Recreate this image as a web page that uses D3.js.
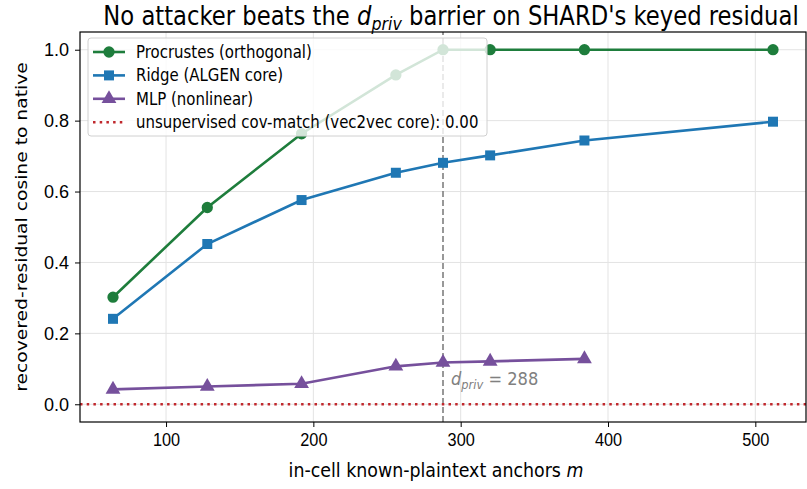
<!DOCTYPE html>
<html>
<head>
<meta charset="utf-8">
<script src="https://cdn.jsdelivr.net/npm/d3@7"></script>
<style>
  body { margin: 0; background: #fff; }
  svg { font-family: "DejaVu Sans", sans-serif; }
</style>
</head>
<body>
<svg id="chart" width="807" height="489"></svg>
<script>
const anchors = [64, 128, 192, 256, 288, 320, 384, 512]
const procrustes = [0.302, 0.555, 0.763, 0.929, 1.0, 1.0, 1.0, 1.0]
const ridge = [0.241, 0.452, 0.576, 0.653, 0.681, 0.702, 0.744, 0.797]
const mlpAnchors = [64, 128, 192, 256, 288, 320, 384]
const mlp = [0.042, 0.050, 0.058, 0.107, 0.118, 0.121, 0.128]
const covMatch = 0.0
const dPriv = 288
const xTicks = [100, 200, 300, 400, 500]
const yTicks = [0.0, 0.2, 0.4, 0.6, 0.8, 1.0]

const svg = d3.select('#chart')
const margin = {left: 80, right: 1, top: 32, bottom: 67}
const width = 807, height = 489
// the reference text looks a bit squeezed sideways
const sx = 0.88

const x = d3.scaleLinear().domain([41.6, 534.4]).range([margin.left, width - margin.right])
const y = d3.scaleLinear().domain([-0.05, 1.05]).range([height - margin.bottom, margin.top])

// text placed at (px,py) and squeezed horizontally
function squeezed(parent, px, py, size, anchor) {
    return parent.append("g").attr("transform", `translate(${px},${py}) scale(${sx},1)`)
        .append("text").attr("text-anchor", anchor || "start").style("font-size", size + "px")
}

const g = svg.append("g")

// grid
g.selectAll(".gx").data(xTicks).enter().append("line")
    .attr("x1", d => x(d)).attr("x2", d => x(d))
    .attr("y1", y.range()[0]).attr("y2", y.range()[1])
    .style("stroke", "#e3e3e3").style("stroke-width", 1)
g.selectAll(".gy").data(yTicks).enter().append("line")
    .attr("y1", d => y(d)).attr("y2", d => y(d))
    .attr("x1", x.range()[0]).attr("x2", x.range()[1])
    .style("stroke", "#e3e3e3").style("stroke-width", 1)

// d_priv barrier
g.append("line")
    .attr("x1", x(dPriv)).attr("x2", x(dPriv))
    .attr("y1", y.range()[0]).attr("y2", y.range()[1])
    .style("stroke", "#7f7f7f").style("stroke-width", 1.6)
    .style("stroke-dasharray", "6,3")

// unsupervised cov-match
g.append("line")
    .attr("x1", x.range()[0]).attr("x2", x.range()[1])
    .attr("y1", y(covMatch)).attr("y2", y(covMatch))
    .style("stroke", "#c0282d").style("stroke-width", 2.5)
    .style("stroke-dasharray", "2.5,4.2")

const line = d3.line().x(d => x(d[0])).y(d => y(d[1]))

const series = [
    {name: "Procrustes (orthogonal)", xs: anchors, ys: procrustes, color: "#1e7d3c", marker: d3.symbolCircle, size: 100},
    {name: "Ridge (ALGEN core)", xs: anchors, ys: ridge, color: "#1f77b4", marker: d3.symbolSquare, size: 100},
    {name: "MLP (nonlinear)", xs: mlpAnchors, ys: mlp, color: "#76509c", marker: d3.symbolTriangle, size: 95}
]

series.forEach(s => {
    const pts = s.xs.map((v, i) => [v, s.ys[i]])
    g.append("path").datum(pts)
        .attr("d", line)
        .style("fill", "none").style("stroke", s.color).style("stroke-width", 2.6)
    g.selectAll(null).data(pts).enter().append("path")
        .attr("d", d3.symbol().type(s.marker).size(s.size))
        .attr("transform", d => `translate(${x(d[0])},${y(d[1])})`)
        .style("fill", s.color)
})

// d_priv label
const lbl = squeezed(g, x(dPriv) + 8, y(0.053), 18.5).style("fill", "#808080")
lbl.append("tspan").style("font-style", "italic").text("d")
lbl.append("tspan").style("font-style", "italic").style("font-size", "13px").attr("dy", 4).text("priv")
lbl.append("tspan").attr("dy", -4).text(" = 288")

// axes
const xAxis = d3.axisBottom(x).tickValues(xTicks).tickSize(5).tickPadding(6).tickFormat(d3.format("d"))
const yAxis = d3.axisLeft(y).tickValues(yTicks).tickSize(5).tickPadding(5).tickFormat(d3.format(".1f"))

svg.append("g").attr("transform", `translate(0,${y.range()[0]})`).call(xAxis)
    .call(a => a.select(".domain").remove())
    .selectAll("text").style("font-size", "18.5px").style("fill", "#000")
    .attr("transform", `scale(${sx},1)`)
svg.append("g").attr("transform", `translate(${x.range()[0]},0)`).call(yAxis)
    .call(a => a.select(".domain").remove())
    .selectAll("text").style("font-size", "19px").style("fill", "#000")
    .attr("x", -11 / 0.95)
    .attr("transform", "scale(0.95,1)")

// frame
svg.append("rect")
    .attr("x", x.range()[0]).attr("y", y.range()[1])
    .attr("width", x.range()[1] - x.range()[0]).attr("height", y.range()[0] - y.range()[1])
    .style("fill", "none").style("stroke", "#000").style("stroke-width", 1.2)

// legend
const leg = svg.append("g").attr("transform", "translate(88,38)")
leg.append("rect")
    .attr("width", 399).attr("height", 98).attr("rx", 3)
    .style("fill", "#fff").style("fill-opacity", 0.8)
    .style("stroke", "#d0d0d0").style("stroke-width", 1)

const legendItems = series.concat([{name: "unsupervised cov-match (vec2vec core): 0.00", color: "#c0282d", dotted: true}])
legendItems.forEach((s, i) => {
    const row = leg.append("g").attr("transform", `translate(0,${14 + i * 23.4})`)
    const ln = row.append("line").attr("x1", 5).attr("x2", 37).attr("y1", 0).attr("y2", 0)
        .style("stroke", s.color).style("stroke-width", s.dotted ? 2.5 : 2.6)
    if (s.dotted) ln.style("stroke-dasharray", "2.5,4.2")
    else row.append("path").attr("d", d3.symbol().type(s.marker).size(s.size))
        .attr("transform", "translate(21,0)").style("fill", s.color)
    squeezed(row, 48, 6, 17).text(s.name)
})

// titles
const title = squeezed(svg, 451, 25, 25.8, "middle")
title.append("tspan").text("No attacker beats the ")
title.append("tspan").style("font-style", "italic").text("d")
title.append("tspan").style("font-style", "italic").style("font-size", "18px").attr("dy", 5).text("priv")
title.append("tspan").attr("dy", -5).text(" barrier on SHARD's keyed residual")

const xl = squeezed(svg, 436, 477, 19.8, "middle")
xl.append("tspan").text("in-cell known-plaintext anchors ")
xl.append("tspan").style("font-style", "italic").text("m")

svg.append("g").attr("transform", `translate(27,${(y.range()[0] + y.range()[1]) / 2}) rotate(-90) scale(1,${sx})`)
    .append("text").attr("text-anchor", "middle").style("font-size", "18.7px")
    .text("recovered-residual cosine to native")
</script>
</body>
</html>
